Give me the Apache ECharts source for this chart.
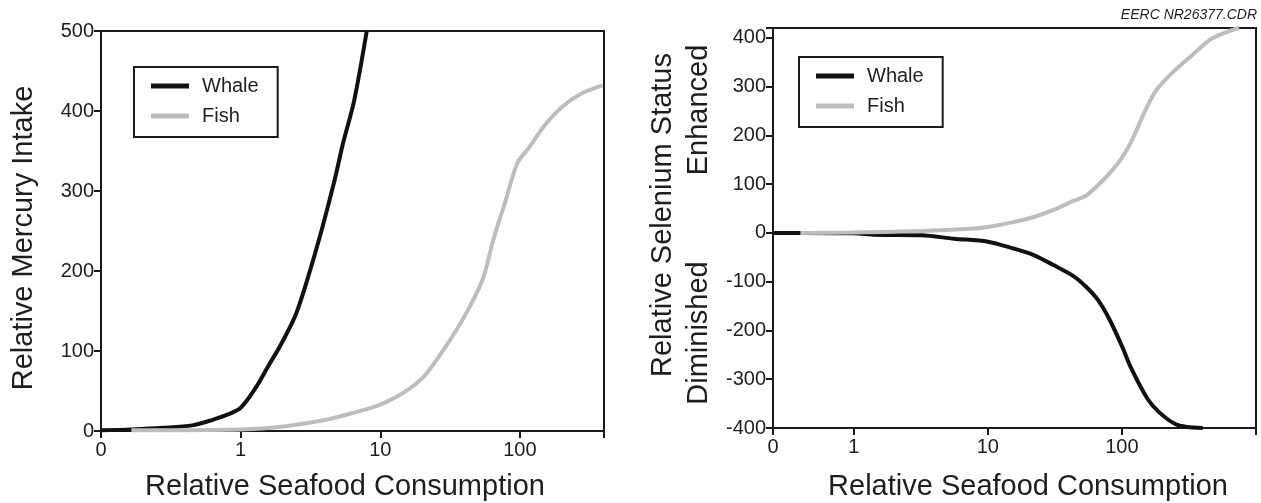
<!DOCTYPE html>
<html>
<head>
<meta charset="utf-8">
<script src="https://cdn.jsdelivr.net/npm/echarts@6/dist/echarts.min.js"></script>
<style>
html,body{margin:0;padding:0;background:#fff;}
#chart{width:1261px;height:503px;}
</style>
</head>
<body>
<div id="chart"></div>
<script>
// ---- Data ----
// Left panel: Relative Mercury Intake vs Relative Seafood Consumption (log x)
var whaleHgX = [0.1, 0.165, 0.28, 0.45, 0.63, 0.82, 1.0, 1.26, 1.6, 1.97, 2.5, 3.0, 3.8, 4.7, 5.4, 6.5, 8.0];
var whaleHgY = [1, 2, 4, 7, 14, 21, 29, 52, 83, 110, 147, 189, 251, 313, 359, 413, 500];
var fishHgX = [0.165, 1, 2.1, 4.1, 6.5, 10, 14.7, 20.5, 28.5, 40, 54, 64.5, 79, 96, 117, 150, 200, 270, 390];
var fishHgY = [1, 2, 6, 14, 23, 33, 48, 68, 102, 143, 189, 239, 288, 335, 355, 382, 405, 421, 432];

// Right panel: Relative Selenium Status vs Relative Seafood Consumption (log x)
var whaleSeX = [0.25, 0.4, 1, 1.45, 3.2, 5.6, 10, 15.5, 21.8, 30.9, 43.8, 53.8, 66, 81, 100, 118, 155, 190, 250, 305, 400];
var whaleSeY = [0, 0, -1, -4, -5, -12, -18, -32, -45, -66, -89, -110, -137, -178, -232, -279, -340, -368, -392, -398, -400];
var fishSeX = [0.4, 1, 3.2, 7.9, 10, 15.5, 21.8, 30.9, 43.8, 53.8, 66, 84, 100, 118, 145, 178, 235, 330, 465, 650, 750];
var fishSeY = [0, 1, 4, 9, 12, 22, 32, 47, 66, 76, 97, 127, 154, 188, 243, 290, 327, 363, 398, 415, 420];

var seriesNames = ['Whale', 'Fish'];
var xTickLabels = {0: '0', 1: '1', 10: '10', 100: '100'};
var leftYTicks = [0, 100, 200, 300, 400, 500];
var rightYTicks = [-400, -300, -200, -100, 0, 100, 200, 300, 400];

var FONT = 'Liberation Sans, Arial, Helvetica, sans-serif';
var TXT = '#1e1e1e';

function pairs(xs, ys) { return xs.map(function (x, i) { return [x, ys[i]]; }); }
function xFmt(v) {
  if (v < 0.5) return xTickLabels[0];
  var l = Math.log10(v), r = Math.round(l);
  if (Math.abs(l - r) < 1e-6 && r <= 2) return xTickLabels[Math.pow(10, r)];
  return '';
}
function yFmtFactory(ticks) {
  return function (v) { return ticks.indexOf(Math.round(v)) >= 0 && Math.abs(v - Math.round(v)) < 1e-6 ? String(Math.round(v)) : ''; };
}

var axisCommon = {
  axisLine: { show: true, onZero: false, lineStyle: { color: '#1a1a1a', width: 2 } },
  axisTick: { show: true, inside: false, length: 7, lineStyle: { color: '#1a1a1a', width: 2 } },
  splitLine: { show: false },
  minorTick: { show: false }
};

function xAxis(grid, min, max) {
  return Object.assign({}, axisCommon, {
    type: 'log', logBase: 10, gridIndex: grid, min: min, max: max,
    axisLabel: { formatter: xFmt, fontSize: 20, color: TXT, fontFamily: FONT, margin: 9, showMinLabel: true, showMaxLabel: true }
  });
}
function yAxis(grid, min, max, ticks) {
  return Object.assign({}, axisCommon, {
    type: 'value', gridIndex: grid, min: min, max: max, interval: 100,
    axisLabel: { formatter: yFmtFactory(ticks), fontSize: 20, color: TXT, fontFamily: FONT, margin: 7 }
  });
}

function lineSeries(name, xi, yi, data, color) {
  return {
    name: name, type: 'line', xAxisIndex: xi, yAxisIndex: yi,
    data: data, showSymbol: false, symbol: 'none', smooth: 0.3,
    lineStyle: { color: color, width: 4 }, itemStyle: { color: color },
    animation: false
  };
}

function legend(left, top) {
  return {
    data: seriesNames, orient: 'vertical', left: left, top: top,
    icon: 'rect', itemWidth: 38, itemHeight: 5, itemGap: 10,
    padding: [9, 19, 11, 17],
    borderColor: '#1a1a1a', borderWidth: 2, backgroundColor: '#fff',
    textStyle: { fontSize: 20, color: TXT, fontFamily: FONT, lineHeight: 20, padding: [0, 0, 0, 8] },
    selectedMode: false
  };
}

function txt(text, x, y, size, rot, extra) {
  return {
    type: 'text', x: x, y: y, rotation: rot || 0, silent: true, z: 100,
    style: Object.assign({ text: text, fontSize: size, fontFamily: FONT, fill: TXT, align: 'center', verticalAlign: 'middle' }, extra || {})
  };
}

var WHALE = '#111111', FISH = '#bdbdbd';

var option = {
  backgroundColor: '#ffffff',
  animation: false,
  grid: [
    { left: 101, top: 31, width: 503, height: 400, show: true, borderColor: '#1a1a1a', borderWidth: 2, backgroundColor: 'transparent', containLabel: false },
    { left: 773, top: 28, width: 483, height: 400, show: true, borderColor: '#1a1a1a', borderWidth: 2, backgroundColor: 'transparent', containLabel: false }
  ],
  xAxis: [xAxis(0, 0.1, 400), xAxis(1, 0.25, 1000)],
  yAxis: [yAxis(0, 0, 500, leftYTicks), yAxis(1, -400, 420, rightYTicks)],
  legend: [legend(134, 67), legend(799, 57)],
  series: [
    lineSeries('Whale', 0, 0, pairs(whaleHgX, whaleHgY), WHALE),
    lineSeries('Fish', 0, 0, pairs(fishHgX, fishHgY), FISH),
    lineSeries('Whale', 1, 1, pairs(whaleSeX, whaleSeY), WHALE),
    lineSeries('Fish', 1, 1, pairs(fishSeX, fishSeY), FISH)
  ],
  graphic: [
    txt('Relative Mercury Intake', 24, 238, 29, Math.PI / 2),
    txt('Relative Seafood Consumption', 345, 487, 29, 0),
    txt('Relative Selenium Status', 663, 215, 29, Math.PI / 2),
    txt('Enhanced', 699, 110, 29, Math.PI / 2),
    txt('Diminished', 699, 333, 29, Math.PI / 2),
    txt('Relative Seafood Consumption', 1028, 487, 29, 0),
    txt('EERC NR26377.CDR', 1257, 15, 14, 0, { align: 'right', fontStyle: 'italic' })
  ]
};

var chart = echarts.init(document.getElementById('chart'), null, { renderer: 'canvas' });
chart.setOption(option);
</script>
</body>
</html>
